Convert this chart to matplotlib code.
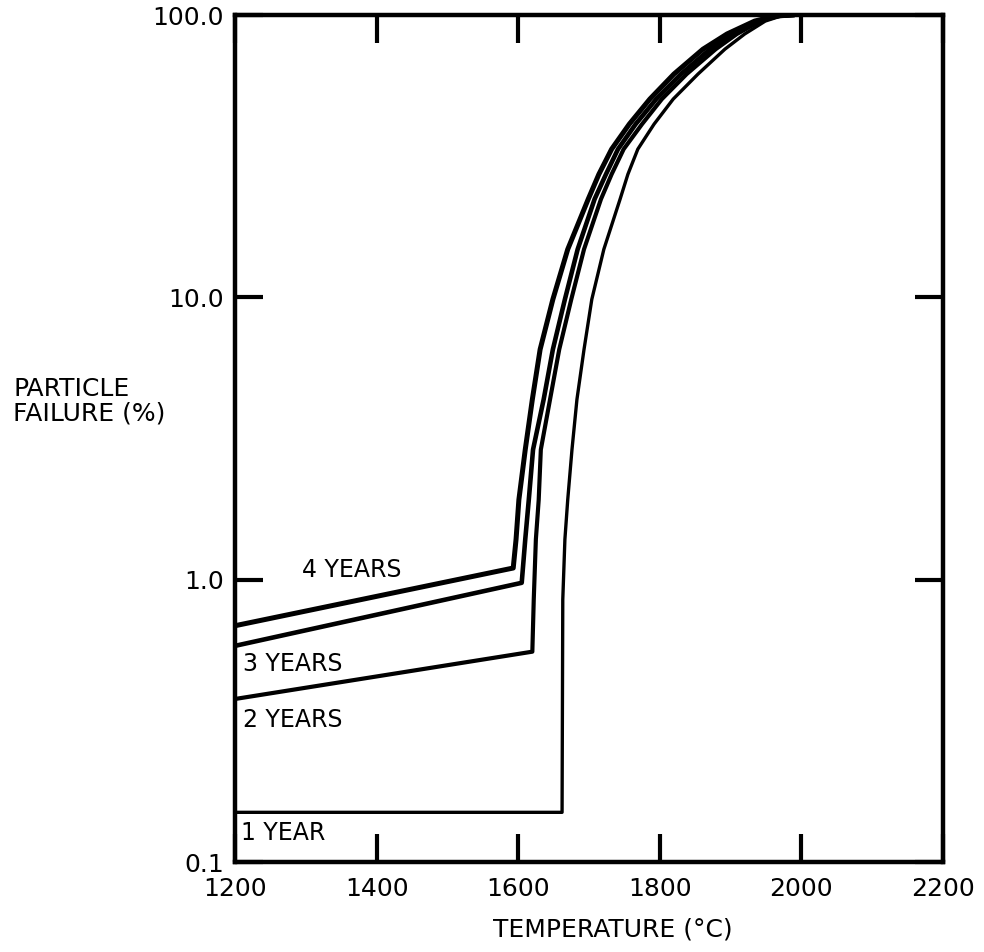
import matplotlib
matplotlib.use("Agg")
import matplotlib.pyplot as plt

# Particle failure vs temperature for increasing irradiation time.
# Each curve: flat creep region, sharp knee, then rapid rise to 100 %.
temp_4yr = [1200, 1593, 1597, 1601, 1610, 1620, 1631, 1649, 1670, 1699, 1714,
            1732, 1757, 1786, 1820, 1861, 1895, 1934, 1963, 1987]
fail_4yr = [0.687, 1.10, 1.39, 1.92, 2.89, 4.35, 6.54, 9.84, 14.8, 22.3, 27.3,
            33.5, 41.1, 50.4, 61.8, 75.7, 85.7, 95.2, 99.2, 100.0]

temp_3yr = [1200, 1605, 1610, 1615, 1621, 1636, 1649, 1666, 1684, 1708, 1724,
            1741, 1766, 1795, 1830, 1871, 1903, 1939, 1966, 1987]
fail_3yr = [0.583, 0.975, 1.39, 1.92, 2.89, 4.35, 6.54, 9.84, 14.8, 22.3, 27.3,
            33.5, 41.1, 50.4, 61.8, 75.7, 85.7, 95.2, 99.2, 100.0]

temp_2yr = [1200, 1620, 1622, 1625, 1629, 1632, 1645, 1658, 1675, 1693, 1717, 1732,
            1749, 1775, 1803, 1838, 1879, 1909, 1942, 1968, 1987]
fail_2yr = [0.378, 0.556, 0.85, 1.39, 1.92, 2.89, 4.35, 6.54, 9.84, 14.8, 22.3, 27.3,
            33.5, 41.1, 50.4, 61.8, 75.7, 85.7, 95.2, 99.2, 100.0]

temp_1yr = [1200, 1662, 1663, 1666, 1670, 1676, 1683, 1693, 1704, 1721, 1744, 1755,
            1769, 1792, 1819, 1854, 1892, 1920, 1949, 1971, 1987]
fail_1yr = [0.150, 0.150, 0.85, 1.39, 1.92, 2.89, 4.35, 6.54, 9.84, 14.8, 22.3, 27.3,
            33.5, 41.1, 50.4, 61.8, 75.7, 85.7, 95.2, 99.2, 100.0]

x_ticks = [1200, 1400, 1600, 1800, 2000, 2200]
y_ticks = [0.1, 1.0, 10.0, 100.0]
y_tick_labels = ["0.1", "1.0", "10.0", "100.0"]

series_labels = ["4 YEARS", "3 YEARS", "2 YEARS", "1 YEAR"]
label_pos = [(1295, 1.08), (1211, 0.504), (1211, 0.319), (1208, 0.127)]

plt.rcParams["font.family"] = ["DejaVu Sans"]

fig = plt.figure(figsize=(9.84, 9.52), dpi=100)
ax = fig.add_axes([0.2388, 0.0945, 0.7195, 0.8897])

ax.plot(temp_4yr, fail_4yr, color="black", lw=3.6, solid_joinstyle="round")
ax.plot(temp_3yr, fail_3yr, color="black", lw=3.3, solid_joinstyle="round")
ax.plot(temp_2yr, fail_2yr, color="black", lw=3.0, solid_joinstyle="round")
ax.plot(temp_1yr, fail_1yr, color="black", lw=2.4, solid_joinstyle="round")

for text, (tx, ty) in zip(series_labels, label_pos):
    ax.text(tx, ty, text, fontsize=17, ha="left", va="center")

ax.set_yscale("log")
ax.set_xlim(1200, 2200)
ax.set_ylim(0.1, 100)
ax.set_xticks(x_ticks)
ax.set_xticklabels([str(t) for t in x_ticks])
ax.set_yticks(y_ticks)
ax.set_yticklabels(y_tick_labels)
ax.minorticks_off()
ax.tick_params(which="both", direction="in", top=True, right=True,
               length=20, width=3, labelsize=18)
ax.tick_params(axis="y", pad=8)
ax.tick_params(axis="x", pad=11)

for side in ax.spines.values():
    side.set_linewidth(3.2)

fig.text(13 / 984, 1 - 389 / 952, "PARTICLE", fontsize=18, ha="left", va="center")
fig.text(13 / 984, 1 - 413 / 952, "FAILURE (%)", fontsize=18, ha="left", va="center")
fig.text(613 / 984, 1 - 930 / 952, "TEMPERATURE (°C)", fontsize=18, ha="center", va="center")

fig.savefig("out.png", dpi=100, facecolor="white")
